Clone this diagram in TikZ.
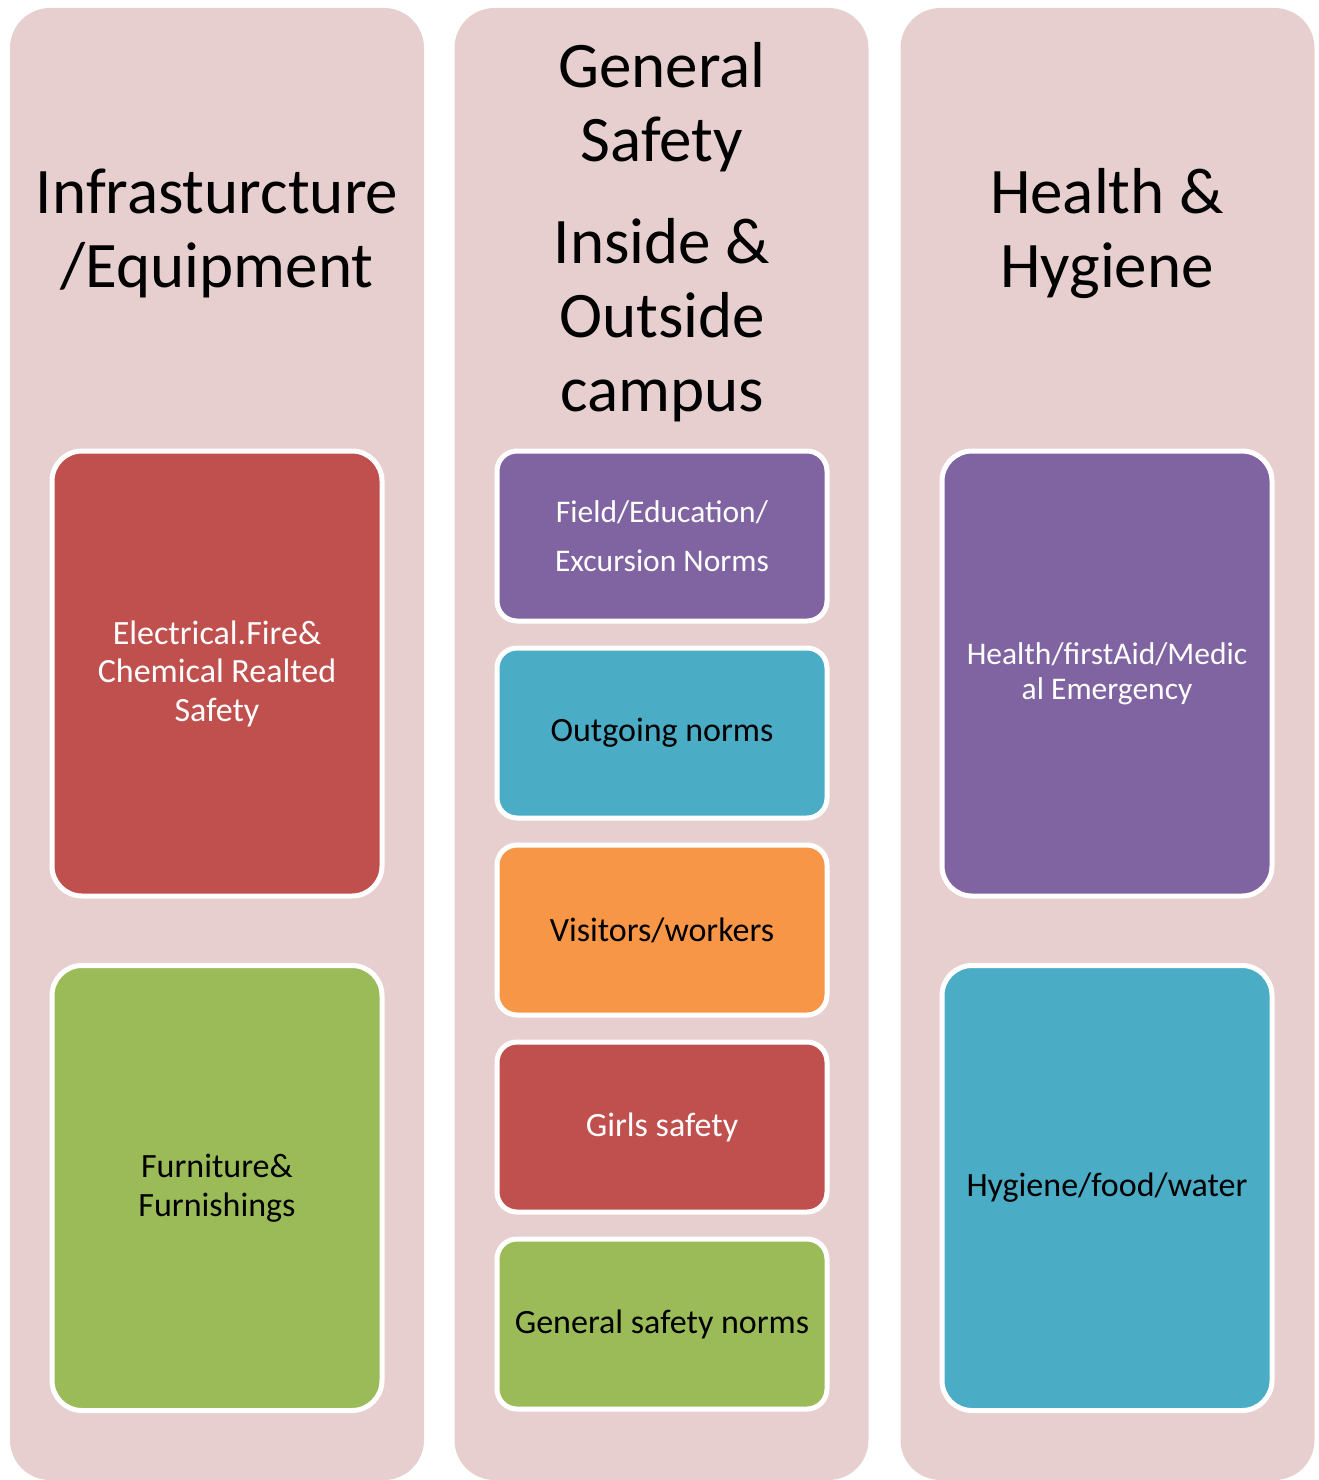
\documentclass[tikz,border=0pt]{standalone}
\usepackage{fontspec}
\setmainfont{Carlito}
\definecolor{colbg}{HTML}{E7CFD0}
\definecolor{cred}{HTML}{C0504D}
\definecolor{cgreen}{HTML}{9BBB59}
\definecolor{cpurple}{HTML}{8064A2}
\definecolor{cblue}{HTML}{4BACC6}
\definecolor{corange}{HTML}{F79646}
\tikzset{
  column/.style={fill=colbg, rounded corners=40pt, minimum width=414pt, minimum height=1472pt, inner sep=0pt},
  heading/.style={align=center, font=\fontsize{65}{74}\selectfont, text=black, anchor=base, inner sep=0pt},
  bigbox/.style={draw=white, line width=5pt, rounded corners=30pt, minimum width=330pt, minimum height=445pt, inner sep=0pt, align=center},
  smallbox/.style={draw=white, line width=5pt, rounded corners=20pt, minimum width=330pt, minimum height=170pt, inner sep=0pt, align=center},
  lighttext/.style={text=white},
  darktext/.style={text=black},
}
\begin{document}
\begin{tikzpicture}[x=1pt,y=-1pt]
\useasboundingbox (0,0) rectangle (1318,1480);
% columns
\node[column] (col1) at (217,744) {};
\node[column] (col2) at (661.5,744) {};
\node[column] (col3) at (1107.5,744) {};
% headings (base = baseline of the last line)
\node[heading] (h1) at (217,287) {Infrasturcture\\/Equipment};
\node[heading] (h2) at (662,411) {General\\Safety\\[28pt]Inside \&\\Outside\\campus};
\node[heading] (h3) at (1107,287) {Health \&\\Hygiene};
% left column
\node[bigbox, fill=cred, lighttext, font=\fontsize{34}{38.5}\selectfont] (b1) at (217,673.5) {Electrical.Fire\&\\Chemical Realted\\Safety};
\node[bigbox, fill=cgreen, darktext, font=\fontsize{34}{38.5}\selectfont] (b2) at (217,1188) {Furniture\&\\Furnishings};
% middle column
\node[smallbox, fill=cpurple, lighttext, font=\fontsize{31.5}{49}\selectfont] (m1) at (662,536) {Field/Education/\\Excursion Norms};
\node[smallbox, fill=cblue, darktext, font=\fontsize{34}{38.5}\selectfont] (m2) at (662,733) {Outgoing norms};
\node[smallbox, fill=corange, darktext, font=\fontsize{34}{38.5}\selectfont] (m3) at (662,930) {Visitors/workers};
\node[smallbox, fill=cred, lighttext, font=\fontsize{34}{38.5}\selectfont] (m4) at (662,1127) {Girls safety};
\node[smallbox, fill=cgreen, darktext, font=\fontsize{34}{38.5}\selectfont] (m5) at (662,1324) {General safety norms};
% right column
\node[bigbox, fill=cpurple, lighttext, font=\fontsize{31.5}{35}\selectfont] (r1) at (1107,673.5) {Health/firstAid/Medic\\al Emergency};
\node[bigbox, fill=cblue, darktext, font=\fontsize{34}{38.5}\selectfont] (r2) at (1107,1188) {Hygiene/food/water};
\end{tikzpicture}
\end{document}
